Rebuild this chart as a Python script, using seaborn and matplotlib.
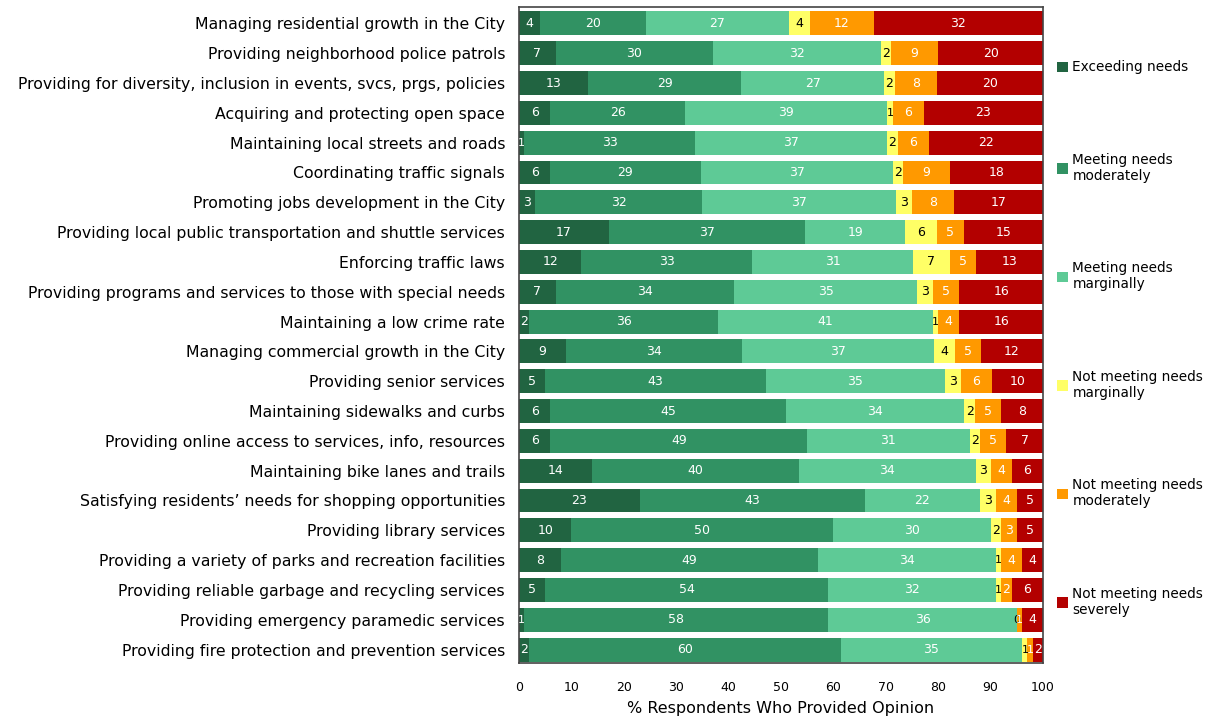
import numpy as np
import pandas as pd
import matplotlib
matplotlib.use("Agg")
import matplotlib.pyplot as plt
import seaborn as sns
from matplotlib.patches import Patch

categories = [
    "Managing residential growth in the City",
    "Providing neighborhood police patrols",
    "Providing for diversity, inclusion in events, svcs, prgs, policies",
    "Acquiring and protecting open space",
    "Maintaining local streets and roads",
    "Coordinating traffic signals",
    "Promoting jobs development in the City",
    "Providing local public transportation and shuttle services",
    "Enforcing traffic laws",
    "Providing programs and services to those with special needs",
    "Maintaining a low crime rate",
    "Managing commercial growth in the City",
    "Providing senior services",
    "Maintaining sidewalks and curbs",
    "Providing online access to services, info, resources",
    "Maintaining bike lanes and trails",
    "Satisfying residents\u2019 needs for shopping opportunities",
    "Providing library services",
    "Providing a variety of parks and recreation facilities",
    "Providing reliable garbage and recycling services",
    "Providing emergency paramedic services",
    "Providing fire protection and prevention services",
]

series_names = [
    "Exceeding needs",
    "Meeting needs\nmoderately",
    "Meeting needs\nmarginally",
    "Not meeting needs\nmarginally",
    "Not meeting needs\nmoderately",
    "Not meeting needs\nseverely",
]

exceeding = [4, 7, 13, 6, 1, 6, 3, 17, 12, 7, 2, 9, 5, 6, 6, 14, 23, 10, 8, 5, 1, 2]
meeting_mod = [20, 30, 29, 26, 33, 29, 32, 37, 33, 34, 36, 34, 43, 45, 49, 40, 43, 50, 49, 54, 58, 60]
meeting_marg = [27, 32, 27, 39, 37, 37, 37, 19, 31, 35, 41, 37, 35, 34, 31, 34, 22, 30, 34, 32, 36, 35]
not_marg = [4, 2, 2, 1, 2, 2, 3, 6, 7, 3, 1, 4, 3, 2, 2, 3, 3, 2, 1, 1, 0, 1]
not_mod = [12, 9, 8, 6, 6, 9, 8, 5, 5, 5, 4, 5, 6, 5, 5, 4, 4, 3, 4, 2, 1, 1]
not_sev = [32, 20, 20, 23, 22, 18, 17, 15, 13, 16, 16, 12, 10, 8, 7, 6, 5, 5, 4, 6, 4, 2]

colors = ["#216441", "#319263", "#5ECA96", "#FFFF66", "#FF9900", "#B30000"]
text_colors = ["white", "white", "white", "black", "white", "white"]

vals = np.array([exceeding, meeting_mod, meeting_marg, not_marg, not_mod, not_sev], dtype=float).T
widths = vals / vals.sum(axis=1, keepdims=True) * 100
cum = np.cumsum(widths, axis=1)

fig = plt.figure(figsize=(12.1, 7.21), dpi=100)
ax = fig.add_axes([519 / 1210, 1 - 663 / 721, (1043 - 519) / 1210, (663 - 7) / 721])

# Draw stacked bars: cumulative totals from last series to first
for k in range(5, -1, -1):
    df = pd.DataFrame({"cat": categories, "val": cum[:, k]})
    sns.barplot(data=df, x="val", y="cat", orient="h", color=colors[k],
                saturation=1, width=0.8, ax=ax, linewidth=0)

# Segment labels (tiny segments get a slightly smaller font)
for i in range(len(categories)):
    left = 0.0
    for k in range(6):
        w = widths[i, k]
        fs = 9 if w >= 1.5 else 8
        ax.text(left + w / 2, i, f"{int(vals[i, k])}", ha="center", va="center",
                color=text_colors[k], fontsize=fs)
        left += w

ax.set_xlim(0, 100)
ax.set_ylim(21.45, -0.55)
ax.set_xticks(np.arange(0, 101, 10))
ax.tick_params(axis="both", length=0)
ax.tick_params(axis="x", labelsize=9, pad=13)
ax.tick_params(axis="y", labelsize=11.3, pad=10)
ax.set_ylabel("")
ax.set_xlabel("% Respondents Who Provided Opinion", fontsize=11.5, labelpad=5)
for s in ax.spines.values():
    s.set_color("#444444")
    s.set_linewidth(1.2)

handles = [Patch(facecolor=c, edgecolor="none") for c in colors]
fig.legend(handles, series_names, loc="upper left", bbox_to_anchor=(1052 / 1210, 1 - 55 / 721),
           frameon=False, fontsize=9.8, labelspacing=5.75, handlelength=0.8, handleheight=0.8,
           handletextpad=0.3, borderaxespad=0)

fig.savefig("out.png", dpi=100)
